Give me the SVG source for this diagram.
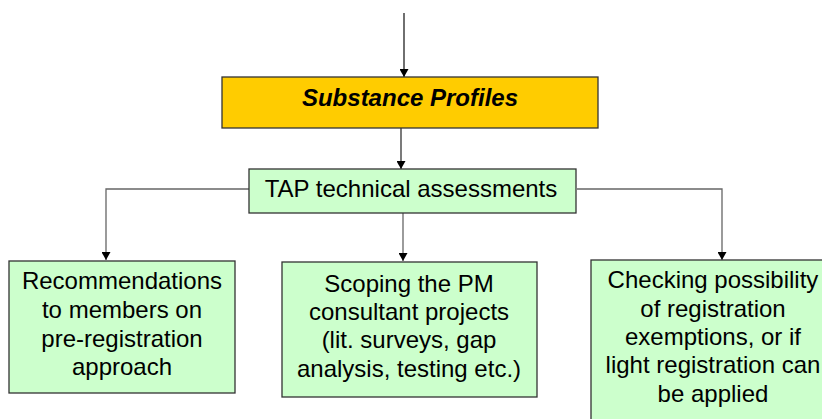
<svg xmlns="http://www.w3.org/2000/svg" width="822" height="419" viewBox="0 0 822 419">
<defs>
<marker id="ah" markerWidth="8" markerHeight="9" refX="8" refY="4.5" orient="auto" markerUnits="userSpaceOnUse">
<path d="M0,0 L8,4.5 L0,9 Z" fill="#000"/>
</marker>
<style>
.box{fill:#CCFFCC;stroke:#333;stroke-width:1.3}
.yel{fill:#FFCC00;stroke:#333;stroke-width:1.3}
.t{font-family:"Liberation Sans",Arial,sans-serif;font-size:24px;fill:#000;text-anchor:middle}
.tb{font-family:"Liberation Sans",Arial,sans-serif;font-size:24px;font-weight:bold;font-style:italic;fill:#000;text-anchor:middle}
.c{fill:none;stroke:#666;stroke-width:1.3}
</style>
</defs>
<rect width="822" height="419" fill="#fff"/>
<g id="connectors">
<path class="c" d="M404,13 V77" marker-end="url(#ah)" style="stroke:#222"/>
<path class="c" d="M401,128 V169" marker-end="url(#ah)" style="stroke:#333"/>
<path class="c" d="M249,189 H106 V260" marker-end="url(#ah)"/>
<path class="c" d="M403,213 V261" marker-end="url(#ah)"/>
<path class="c" d="M577,189 H722 V260" marker-end="url(#ah)"/>
</g>
<g id="substance-profiles">
<rect class="yel" x="222" y="77" width="376" height="51"/>
<text class="tb" x="410" y="106">Substance Profiles</text>
</g>
<g id="tap">
<rect class="box" x="249" y="169" width="327" height="44"/>
<text class="t" x="411" y="197">TAP technical assessments</text>
</g>
<g id="recommendations">
<rect class="box" x="9" y="261" width="226" height="132"/>
<text class="t" x="122" y="289">Recommendations</text>
<text class="t" x="122" y="318">to members on</text>
<text class="t" x="122" y="347">pre-registration</text>
<text class="t" x="122" y="375">approach</text>
</g>
<g id="scoping">
<rect class="box" x="282" y="262" width="255" height="135"/>
<text class="t" x="409" y="292">Scoping the PM</text>
<text class="t" x="409" y="320">consultant projects</text>
<text class="t" x="409" y="348">(lit. surveys, gap</text>
<text class="t" x="409" y="377">analysis, testing etc.)</text>
</g>
<g id="checking">
<rect class="box" x="591" y="260" width="246" height="170"/>
<text class="t" x="713" y="288">Checking possibility</text>
<text class="t" x="713" y="317">of registration</text>
<text class="t" x="713" y="345">exemptions, or if</text>
<text class="t" x="713" y="373">light registration can</text>
<text class="t" x="713" y="402">be applied</text>
</g>
</svg>
